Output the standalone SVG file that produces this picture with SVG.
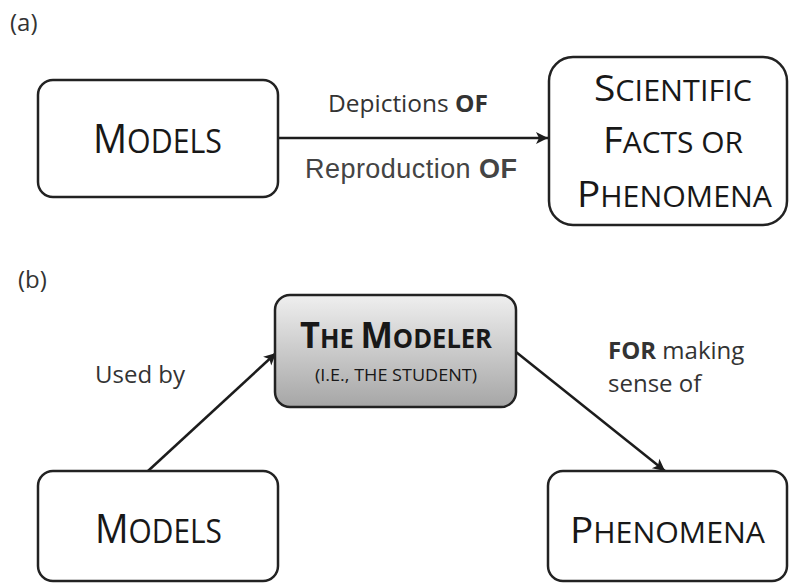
<svg xmlns="http://www.w3.org/2000/svg" width="790" height="583" viewBox="0 0 790 583">
<style>
.box{fill:#fff;stroke:#222;stroke-width:2.5}
.cap{font-family:"Open Sans","Liberation Sans",sans-serif;fill:#181818}
.lbl{font-family:"Open Sans","Liberation Sans",sans-serif;fill:#333}
.conn{stroke:#1c1c1c;stroke-width:2.5;fill:none;marker-end:url(#ah)}
</style>
<defs>
<marker id="ah" markerUnits="userSpaceOnUse" markerWidth="14" markerHeight="14" viewBox="0 0 14 14" refX="13" refY="7" orient="auto">
<path d="M1,1 L13,7 L1,13 L4,7 z" fill="#1c1c1c"/>
</marker>
<linearGradient id="gr" x1="0" y1="0" x2="0" y2="1">
<stop offset="0" stop-color="#efefef"/>
<stop offset="1" stop-color="#a6a6a6"/>
</linearGradient>
</defs>
<text class="lbl" x="10" y="31" font-size="24" fill="#444">(a)</text>
<text class="lbl" x="18" y="288" font-size="24" fill="#444">(b)</text>
<g id="connectors">
<line class="conn" x1="279" y1="138" x2="548" y2="138"/>
<line class="conn" x1="148" y1="471" x2="276" y2="353"/>
<line class="conn" x1="516" y1="352" x2="665" y2="471"/>
</g>
<g id="edge-labels">
<text class="lbl" x="328" y="112" font-size="23" font-weight="500" textLength="160" lengthAdjust="spacingAndGlyphs">Depictions <tspan font-weight="bold">OF</tspan></text>
<text x="305" y="178" font-size="27" font-family="'Liberation Sans',Arial,sans-serif" fill="#444" textLength="212">Reproduction <tspan font-weight="bold">OF</tspan></text>
<text class="lbl" x="95" y="383" font-size="24">Used by</text>
<text class="lbl" x="608" y="359" font-size="24"><tspan font-weight="bold">FOR</tspan> making</text>
<text class="lbl" x="608" y="392" font-size="24">sense of</text>
</g>
<g id="models-a">
<rect class="box" x="38" y="80" width="240" height="117" rx="15"/>
<text class="cap" x="93" y="153" textLength="129" lengthAdjust="spacingAndGlyphs"><tspan font-size="40">M</tspan><tspan font-size="32">ODELS</tspan></text>
</g>
<g id="scientific">
<rect class="box" x="549" y="57" width="238" height="168" rx="24"/>
<text class="cap" x="594" y="101" textLength="158" lengthAdjust="spacingAndGlyphs"><tspan font-size="37">S</tspan><tspan font-size="29">CIENTIFIC</tspan></text>
<text class="cap" x="603" y="153" textLength="140" lengthAdjust="spacingAndGlyphs"><tspan font-size="37">F</tspan><tspan font-size="29">ACTS OR</tspan></text>
<text class="cap" x="577" y="207" textLength="195" lengthAdjust="spacingAndGlyphs"><tspan font-size="37">P</tspan><tspan font-size="29">HENOMENA</tspan></text>
</g>
<g id="modeler">
<rect x="275" y="295" width="241" height="112" rx="15" fill="url(#gr)" stroke="#222" stroke-width="2.5"/>
<text class="cap" x="300" y="348" font-weight="bold" textLength="192" lengthAdjust="spacingAndGlyphs"><tspan font-size="35">T</tspan><tspan font-size="26">HE </tspan><tspan font-size="35">M</tspan><tspan font-size="26">ODELER</tspan></text>
<text class="cap" x="315" y="381" font-size="17" font-weight="500" fill="#555" textLength="162" lengthAdjust="spacingAndGlyphs">(I.E., THE STUDENT)</text>
</g>
<g id="models-b">
<rect class="box" x="38" y="471" width="240" height="110" rx="15"/>
<text class="cap" x="95" y="543" textLength="127" lengthAdjust="spacingAndGlyphs"><tspan font-size="40">M</tspan><tspan font-size="32">ODELS</tspan></text>
</g>
<g id="phenomena">
<rect class="box" x="548" y="471" width="239" height="110" rx="15"/>
<text class="cap" x="570" y="543" textLength="195" lengthAdjust="spacingAndGlyphs"><tspan font-size="37">P</tspan><tspan font-size="29">HENOMENA</tspan></text>
</g>
</svg>
